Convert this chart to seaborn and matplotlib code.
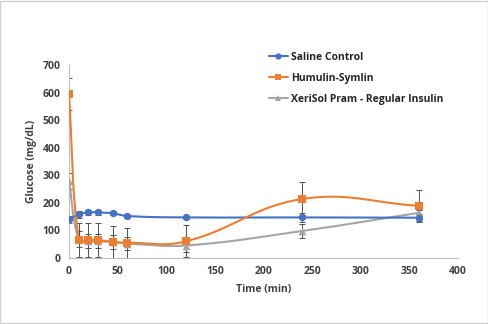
import numpy as np
import pandas as pd
import matplotlib
matplotlib.use("Agg")
import matplotlib.pyplot as plt
from matplotlib.lines import Line2D
from matplotlib.patches import Rectangle
import seaborn as sns

# Sampling times (min)
time_min = [0, 10, 20, 30, 45, 60, 120, 240, 360]

# Mean glucose (mg/dL) and error (SD) for each group
saline = [140, 158, 165, 165, 162, 152, 147, 147, 146]
saline_err = [12, 12, 8, 8, 8, 8, 5, 15, 12]

humulin = [594, 65, 65, 65, 58, 55, 60, 214, 189]
humulin_err = [58, 60, 60, 60, 58, 55, 58, 60, 58]

xerisol = [280, 68, 60, 60, 58, 52, 45, 98, 164]
xerisol_err = [28, 30, 25, 25, 25, 25, 22, 25, 10]

series_names = ["Saline Control", "Humulin-Symlin", "XeriSol Pram - Regular Insulin"]
colors = ["#4472C4", "#ED7D31", "#A5A5A5"]
markers = ["o", "s", "^"]

sns.set_theme(style="white")
plt.rcParams["font.family"] = ["Open Sans", "DejaVu Sans"]

# pixel size of the plotting area, used to smooth in screen space
AX_W_PX, AX_H_PX = 389.0, 193.0
X_MAX, Y_MAX = 400.0, 700.0


def smooth_path(x, y, n=40, k=0.4):
    """Smoothed polyline through the points: cubic Bezier segments whose
    control arms follow the neighbour chord, scaled by each segment's own length."""
    sx = AX_W_PX / X_MAX
    sy = AX_H_PX / Y_MAX
    pts = np.column_stack([np.asarray(x, float) * sx, np.asarray(y, float) * sy])
    m = len(pts)
    tang = np.zeros_like(pts)
    for i in range(m):
        a = pts[max(i - 1, 0)]
        b = pts[min(i + 1, m - 1)]
        d = b - a
        nrm = np.hypot(*d)
        tang[i] = d / nrm if nrm > 0 else 0
    t = np.linspace(0, 1, n)
    out = []
    for i in range(m - 1):
        p1, p2 = pts[i], pts[i + 1]
        L = np.hypot(*(p2 - p1))
        c1 = p1 + tang[i] * L * k
        c2 = p2 - tang[i + 1] * L * k
        seg = ((1 - t)[:, None] ** 3 * p1 + 3 * ((1 - t) ** 2 * t)[:, None] * c1
               + 3 * ((1 - t) * t ** 2)[:, None] * c2 + (t ** 3)[:, None] * p2)
        out.append(seg if i == 0 else seg[1:])
    path = np.vstack(out)
    return path[:, 0] / sx, path[:, 1] / sy


fig = plt.figure(figsize=(4.89, 3.24), dpi=100)
ax = fig.add_axes([0.141, 0.204, 0.796, 0.595])

frames = []
for name, vals in zip(series_names, [saline, humulin, xerisol]):
    frames.append(pd.DataFrame({"Time": time_min, "Glucose": vals, "Group": name}))
df = pd.concat(frames, ignore_index=True)

# draw gray first so the others sit on top
order = [2, 0, 1]
for idx in order:
    name = series_names[idx]
    sub = df[df["Group"] == name]
    err = [saline_err, humulin_err, xerisol_err][idx]
    ax.errorbar(sub["Time"], sub["Glucose"], yerr=err, fmt="none",
                ecolor="#505050", elinewidth=0.7, capsize=2.2, capthick=0.7, zorder=2)
    px, py = smooth_path(sub["Time"], sub["Glucose"])
    sns.lineplot(x=px, y=py, sort=False, estimator=None,
                 color=colors[idx], linewidth=1.5, ax=ax, zorder=3)
    sns.scatterplot(data=sub, x="Time", y="Glucose", marker=markers[idx],
                    color=colors[idx], s=28 if idx != 2 else 30, linewidth=0,
                    ax=ax, zorder=4, legend=False)

ax.set_xlim(0, 400)
ax.set_ylim(0, 700)
ax.set_xticks(range(0, 401, 50))
ax.set_yticks(range(0, 701, 100))
tick_font = dict(fontsize=7.5, fontweight="bold", color="#404040")
ax.set_xticklabels([str(v) for v in range(0, 401, 50)], **tick_font)
ax.set_yticklabels([str(v) for v in range(0, 701, 100)], **tick_font)
ax.tick_params(axis="both", length=0, pad=6)
ax.set_xlabel("Time (min)", fontsize=7.5, fontweight="bold", color="#404040", labelpad=5)
ax.set_ylabel("Glucose (mg/dL)", fontsize=7.5, fontweight="bold", color="#404040", labelpad=4)

for side in ["top", "right"]:
    ax.spines[side].set_visible(False)
for side in ["left", "bottom"]:
    ax.spines[side].set_color("#BFBFBF")
    ax.spines[side].set_linewidth(0.8)

handles = [Line2D([0], [0], color=c, marker=m, markersize=4.5, linewidth=1.5,
                  markeredgewidth=0) for c, m in zip(colors, markers)]
leg = fig.legend(handles, series_names, loc="upper left", bbox_to_anchor=(0.53, 0.868),
                 frameon=False, handlelength=1.9, handletextpad=0.25, labelspacing=0.95,
                 prop=dict(size=7.5, weight="bold"))
for t in leg.get_texts():
    t.set_color("#262626")

fig.patches.append(Rectangle((0.001, 0.002), 0.997, 0.995, transform=fig.transFigure,
                             fill=False, edgecolor="#D0D0D0", linewidth=1.0))

fig.savefig("out.png", dpi=100)
